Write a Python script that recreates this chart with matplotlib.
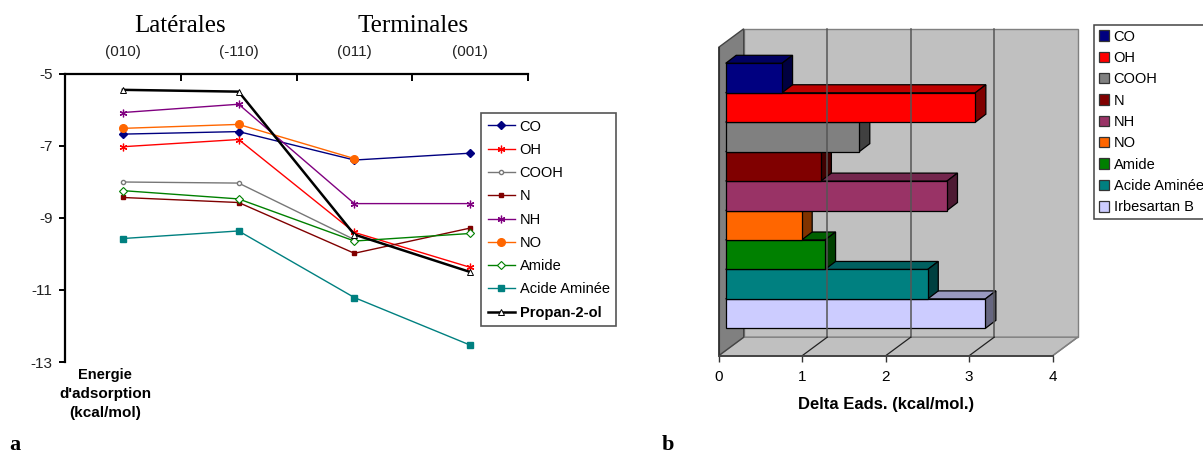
import numpy as np
import matplotlib
matplotlib.use("Agg")
import matplotlib.pyplot as plt
from matplotlib.patches import Polygon, Rectangle

W, H = 1203, 454
plt.rcParams['font.family'] = ['Liberation Sans', 'DejaVu Sans']

surfaces = ['(010)', '(-110)', '(011)', '(001)']
y_ticks = [-5, -7, -9, -11, -13]
nan = float('nan')
co = [-6.67, -6.60, -7.39, -7.20]
oh = [-7.02, -6.82, -9.40, -10.37]
cooh = [-8.00, -8.03, -9.60, nan]
n_ = [-8.43, -8.57, -9.98, -9.28]
nh = [-6.07, -5.84, -8.60, -8.60]
no = [-6.51, -6.40, -7.35, nan]
amide = [-8.24, -8.47, -9.64, -9.43]
acide = [-9.57, -9.36, -11.21, -12.53]
propanol = [-5.44, -5.49, -9.46, -10.50]

bar_labels = ['CO', 'OH', 'COOH', 'N', 'NH', 'NO', 'Amide', 'Acide Aminée', 'Irbesartan B']
bar_values = [0.675, 2.99, 1.60, 1.14, 2.65, 0.91, 1.19, 2.42, 3.11]
bar_colors = ['#000080', '#ff0000', '#808080', '#800000', '#993366', '#ff6600', '#008000', '#008080', '#ccccff']
x_ticks_b = [0, 1, 2, 3, 4]

fig = plt.figure(figsize=(W / 100, H / 100), dpi=100, facecolor='white')


def axes_px(l, t, r, b):
    return fig.add_axes([l / W, 1 - b / H, (r - l) / W, (b - t) / H])


def ftext(x, y, s, **kw):
    fig.text(x / W, 1 - y / H, s, ha=kw.pop('ha', 'center'), va=kw.pop('va', 'center'), **kw)


# ---------- Panel a ----------
ax = axes_px(65, 74, 528, 362)
ax.set_xlim(0, 4)
ax.set_ylim(-13, -5)
xc = np.arange(4) + 0.5
star = (6, 2, 0)
series = [
    ('CO', co, '#000080', 'D', 4.5, 1.0, dict()),
    ('OH', oh, '#ff0000', star, 5.5, 1.0, dict(mew=0.9)),
    ('COOH', cooh, '#777777', 'o', 3, 1.0, dict(mfc='white')),
    ('N', n_, '#800000', 's', 3, 1.0, dict()),
    ('NH', nh, '#800080', star, 5.5, 1.0, dict(mew=0.9)),
    ('NO', no, '#ff6600', 'o', 5.5, 1.0, dict()),
    ('Amide', amide, '#008000', 'D', 4.5, 1.0, dict(mfc='white', mew=0.8)),
    ('Acide Aminée', acide, '#008080', 's', 5, 1.0, dict()),
    ('Propan-2-ol', propanol, '#000000', '^', 5, 1.8, dict(mfc='white', mew=0.7)),
]
handles = []
for name, vals, col, mk, ms, lw, extra in series:
    h, = ax.plot(xc, vals, color=col, marker=mk, ms=ms, lw=lw, label=name, clip_on=False, **extra)
    handles.append(h)

for s in ('right', 'bottom'):
    ax.spines[s].set_visible(False)
for s in ('top', 'left'):
    ax.spines[s].set_linewidth(1.6)
ax.xaxis.tick_top()
ax.set_xticks(np.arange(5))
ax.set_xticklabels([])
ax.set_xticks(xc, minor=True)
ax.set_xticklabels(surfaces, minor=True, fontsize=11, color='#222222')
ax.tick_params(axis='x', which='major', direction='in', length=5, width=1.4)
ax.tick_params(axis='x', which='minor', length=0, pad=11)
ax.set_yticks(y_ticks)
ax.set_yticklabels([str(v) for v in y_ticks], fontsize=11, color='#222222')
ax.tick_params(axis='y', direction='out', length=4, width=1.4, pad=5)

leg = fig.legend(handles=handles, loc='upper left', bbox_to_anchor=(481 / W, 1 - 113 / H),
                 frameon=True, fancybox=False, edgecolor='#555555', framealpha=1,
                 fontsize=10.5, labelspacing=0.635, handlelength=1.9, handletextpad=0.3,
                 borderpad=0.45, borderaxespad=0)
leg.get_frame().set_linewidth(1.2)
leg.get_texts()[-1].set_fontweight('bold')

ftext(105, 374.5, 'Energie', fontsize=10.5, fontweight='bold')
ftext(105, 394, "d'adsorption", fontsize=11, fontweight='bold')
ftext(105, 413.5, '(kcal/mol)', fontsize=11, fontweight='bold')
ftext(180, 26.5, 'Latérales', fontsize=18, family='Liberation Serif')
ftext(413, 26.5, 'Terminales', fontsize=18, family='Liberation Serif')
ftext(15, 445, 'a', fontsize=16, fontweight='bold', family='Liberation Serif')
ftext(668, 445, 'b', fontsize=16, fontweight='bold', family='Liberation Serif')

# ---------- Panel b ----------
L, R, T, B = 718.7, 1052.7, 47.3, 355.7
bx = axes_px(L, T, R, B)
row_px = 29.45
first_top = 63.3
bx.set_xlim(0, 4)
bx.set_ylim((B - first_top) / row_px, (T - first_top) / row_px)
upx = 4 / (R - L)
vpx = 1 / row_px
dx, dy = 25 * upx, -18.5 * vpx          # wall depth
bx0 = 7 * upx                           # bar offset from wall
bdx, bdy = 10.5 * upx, -8 * vpx         # bar depth
y_top, y_bot = bx.get_ylim()[1], bx.get_ylim()[0]
bx.patch.set_visible(False)
kw = dict(clip_on=False)
wall = '#c0c0c0'
bx.add_patch(Polygon([(dx, y_top + dy), (4 + dx, y_top + dy), (4 + dx, y_bot + dy), (dx, y_bot + dy)],
                     fc=wall, ec='#808080', lw=1, **kw))
bx.add_patch(Polygon([(0, y_bot), (4, y_bot), (4 + dx, y_bot + dy), (dx, y_bot + dy)],
                     fc=wall, ec='#808080', lw=1, **kw))
bx.add_patch(Polygon([(0, y_top), (dx, y_top + dy), (dx, y_bot + dy), (0, y_bot)],
                     fc='#808080', ec='#444444', lw=1, **kw))
for t in x_ticks_b[1:-1]:
    bx.plot([t + dx, t + dx], [y_top + dy, y_bot + dy], color='#555555', lw=1.1, clip_on=False)
    bx.plot([t, t + dx], [y_bot, y_bot + dy], color='#222222', lw=0.9, clip_on=False)
bx.plot([4, 4 + dx], [y_bot, y_bot + dy], color='#808080', lw=1, clip_on=False)


def shade(c, f):
    rgb = np.array(matplotlib.colors.to_rgb(c))
    return tuple(rgb * f)


for i in range(len(bar_values) - 1, -1, -1):
    v, c = bar_values[i], bar_colors[i]
    x0, x1 = bx0, bx0 + v
    y0, y1 = i, i + 1
    ec = dict(ec='black', lw=0.9, clip_on=False)
    bx.add_patch(Polygon([(x0, y0), (x0 + bdx, y0 + bdy), (x1 + bdx, y0 + bdy), (x1, y0)],
                         fc=shade(c, 0.75), **ec))
    bx.add_patch(Polygon([(x1, y0), (x1 + bdx, y0 + bdy), (x1 + bdx, y1 + bdy), (x1, y1)],
                         fc=shade(c, 0.5), **ec))
    bx.add_patch(Rectangle((x0, y0), v, 1, fc=c, **ec))

for s in ('top', 'right'):
    bx.spines[s].set_visible(False)
bx.spines['left'].set_color('#333333')
bx.spines['bottom'].set_color('#444444')
bx.spines['bottom'].set_linewidth(1.4)
bx.spines['left'].set_bounds(y_bot, y_top)
bx.set_yticks([])
bx.set_xticks(x_ticks_b)
bx.tick_params(axis='x', length=4, width=1, labelsize=11, pad=6, color='#333333')
bx.set_xlabel('Delta Eads. (kcal/mol.)', fontsize=12, fontweight='bold', labelpad=10)

bh = [Rectangle((0, 0), 1, 1, fc=c, ec='#333333', lw=0.9) for c in bar_colors]
leg2 = fig.legend(bh, bar_labels, loc='upper left', bbox_to_anchor=(1094 / W, 1 - 24.7 / H),
                  frameon=True, fancybox=False, edgecolor='#444444', framealpha=1,
                  fontsize=10.5, labelspacing=0.505, handlelength=0.72, handleheight=0.72,
                  handletextpad=0.3, borderpad=0.33, borderaxespad=0)
leg2.get_frame().set_linewidth(1.1)

fig.savefig('out.png', dpi=100)
